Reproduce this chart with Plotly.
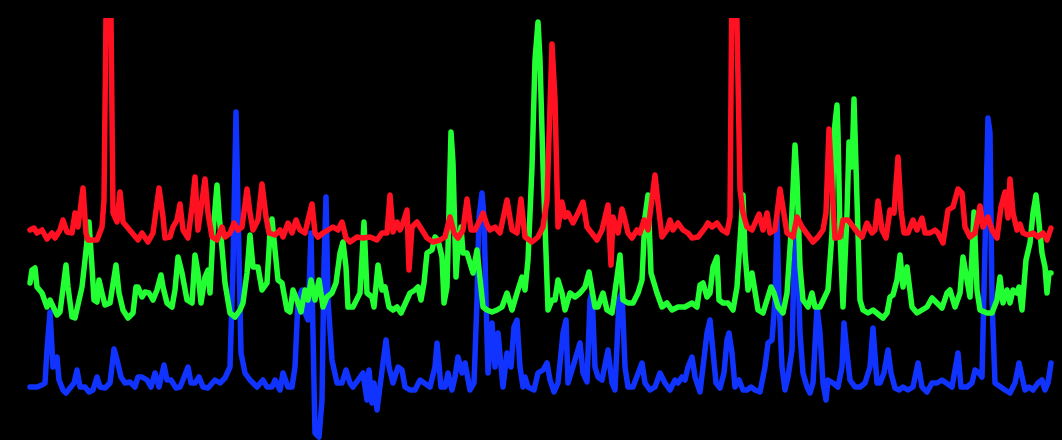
import plotly.graph_objects as go

# ---- data (time index, signal amplitude) ----
red_t = [30,34,37,42,47,52,55,60,63,67,72,75,78,81,83,86,88,97,102,104,106.5,110.5,113,117,120,123,127,133,138,142,148,153,157,159,163,165,170,173,177,180,183,188,192,195,198,202,205,208,212,217,222,225,230,234,238,242,247,250,253,258,262,266,269,275,280,283,288,292,296,300,305,308,312,315,318,323,328,333,338,342,346,350,357,363,370,377,382,387,390,393,397,400,403,407,409,412,417,422,427,433,440,445,450,454,458,463,467,471,475,479,483,487,490,495,500,507,512,517,521,525,532,538,543,547,550,552,555,558,562,565,568,573,578,583,587,592,597,602,608,611,613,618,622,625,628,632,637,640,644,648,652,655,658,662,667,670,673,678,683,688,692,698,705,708,712,717,722,727,730,732,736,738,740,743,747,752,755,759,763,767,770,775,780,784,787,793,797,802,807,813,818,823,826,829,832,835,840,843,848,853,858,862,867,872,875,878,882,886,890,894,898,901,904,908,913,917,922,925,930,935,938,943,948,953,958,962,965,970,975,980,983,988,992,997,1001,1005,1008,1010,1013,1017,1020,1023,1028,1033,1038,1043,1047,1051]
red_v = [210,212,207,210,201,207,202,210,220,208,207,227,213,240,252,207,200,200,213,240,470,470,227,218,248,218,213,207,200,207,198,207,233,252,223,202,203,213,220,236,210,202,233,263,210,235,261,227,203,200,213,203,207,217,210,213,251,227,210,220,256,223,207,205,210,203,217,207,220,210,207,220,236,207,203,207,210,213,210,218,202,198,203,202,203,200,207,207,245,208,218,210,217,230,170,213,218,210,202,198,200,203,223,207,202,210,241,210,210,218,227,215,210,213,207,240,210,207,241,203,198,203,213,240,340,396,340,213,238,223,227,217,227,238,213,207,200,210,235,175,223,207,231,220,207,202,210,207,220,210,240,265,237,203,210,220,210,217,210,207,202,203,212,217,213,217,210,207,223,470,470,340,251,227,213,210,217,226,210,227,207,210,251,227,207,203,223,213,207,198,203,210,227,311,253,202,203,220,220,213,207,203,217,207,210,239,210,202,230,227,283,230,207,207,220,210,222,207,207,210,207,197,230,233,251,247,213,203,207,234,213,223,210,202,233,248,222,261,227,210,216,207,205,207,203,207,200,212]

green_t = [30,32,35,37,42,47,50,53,57,60,63,66,68,72,75,78,82,85,87,89,92,94,97,99,102,105,110,113,116,119,123,128,133,136,138,142,145,149,153,157,161,163,167,172,175,178,182,187,192,195,198,201,205,208,210,213,217,219,222,225,230,235,240,243,247,250,253,258,262,267,270,272,275,278,282,287,290,293,297,301,305,308,311,315,319,323,327,332,336,340,343,346,348,353,355,360,364,367,372,374,378,382,385,389,393,397,401,405,410,415,418,421,424,427,432,435,438,442,444,447,449,451,453,456,458,461,463,467,470,473,477,479,483,487,492,497,502,507,512,517,522,525,528,532,535,538,540,543,546,548,552,555,558,562,565,570,575,580,585,589,592,595,598,603,607,612,617,620,623,628,633,638,642,645,648,651,657,662,667,672,678,685,692,697,700,703,707,710,713,717,719,723,728,733,737,740,743,745,748,752,755,758,763,767,771,774,778,783,787,791,793,795,797,800,803,808,812,815,820,825,828,832,834,837,838,840,843,847,849,852,854,857,860,863,868,873,877,880,883,887,890,893,897,900,903,907,910,912,917,922,927,932,937,942,947,950,955,960,963,967,970,974,977,980,987,992,997,1000,1003,1007,1010,1013,1017,1019,1022,1026,1030,1033,1036,1038,1042,1045,1047,1049,1051]
green_v = [157,170,172,153,147,133,140,133,125,128,157,175,153,123,122,137,153,180,200,218,173,140,138,160,147,135,137,157,175,147,130,122,127,153,153,143,148,147,140,150,165,153,137,133,150,183,167,140,137,185,167,137,163,170,147,207,255,227,187,157,127,123,130,137,167,205,173,173,150,157,207,221,190,160,157,130,128,150,140,128,150,140,160,140,160,133,143,147,157,187,198,173,133,133,137,147,218,147,143,133,175,150,153,133,130,133,127,137,147,150,153,140,157,187,190,203,200,183,137,153,227,308,277,163,193,213,187,187,177,167,190,167,133,130,128,130,133,147,130,147,163,150,180,273,380,418,380,273,163,130,140,140,160,147,130,147,143,147,153,168,150,133,133,147,130,127,163,185,140,137,137,147,160,223,245,167,147,133,137,130,133,133,137,133,155,157,143,147,173,183,140,137,137,130,153,207,245,187,150,167,150,130,127,140,153,147,133,127,147,207,267,295,260,173,140,133,147,133,133,143,150,207,307,335,307,207,133,227,298,273,341,240,140,130,127,130,127,125,122,127,143,145,160,185,153,173,150,133,127,130,133,142,137,132,147,150,133,147,183,163,143,228,150,130,127,127,140,163,137,150,137,150,147,153,130,180,197,227,245,227,187,173,147,167,167]

blue_t = [30,37,42,45,47,50,53,57,59,63,66,70,74,77,80,85,89,93,97,100,105,110,114,117,121,125,130,135,138,142,147,151,155,159,164,167,171,176,180,183,188,191,195,199,203,208,215,220,225,230,233,236,238,241,245,250,257,263,267,272,275,280,283,288,292,295,298,302,305,308,311,313,315,319,322,324,326,328,332,337,342,346,350,353,358,363,367,369,372,374,377,379,383,386,389,393,398,402,405,410,415,420,425,430,435,437,441,445,448,452,455,458,462,465,470,474,477,479,482,484,486,488,492,495,498,503,507,511,514,517,520,523,525,528,534,538,543,547,550,554,558,563,566,568,572,577,580,583,587,590,592,595,598,602,605,608,612,615,619,622,625,628,633,638,642,645,650,655,660,665,670,675,678,682,685,688,692,695,700,703,707,710,713,716,720,724,727,729,732,735,739,743,747,751,755,760,765,768,772,775,777,779,782,785,788,792,794,797,800,803,807,810,813,817,820,823,826,828,833,838,842,844,847,850,855,860,865,870,873,877,880,884,888,891,895,899,903,908,913,918,922,927,932,937,942,947,952,958,961,967,972,975,979,982,985,988,990,992,995,1000,1005,1010,1015,1019,1022,1025,1029,1033,1038,1042,1045,1048,1051]
blue_v = [53,53,55,57,90,128,73,83,60,50,47,53,57,70,53,53,48,50,63,53,52,57,91,80,63,57,58,53,63,63,60,53,67,53,75,60,60,52,53,60,73,57,57,63,53,52,60,57,62,73,173,328,207,87,67,60,53,60,53,53,60,50,67,53,53,73,140,150,127,120,207,107,7,3,40,173,243,140,80,57,57,70,57,53,60,67,40,70,37,57,30,50,77,100,73,57,73,70,53,50,50,60,57,53,73,97,53,53,67,50,63,83,67,77,50,57,140,223,247,223,140,67,117,73,107,53,87,73,113,120,73,53,63,53,50,67,70,77,60,48,57,107,120,57,70,87,97,67,58,140,147,73,63,60,73,90,57,50,140,147,73,53,53,67,77,57,50,53,67,57,50,60,57,63,60,73,83,63,48,73,107,120,90,57,52,67,100,107,87,53,60,50,50,53,50,48,73,97,100,140,223,140,73,50,63,90,173,207,107,67,53,47,57,133,107,57,40,60,57,53,73,117,87,60,53,53,57,73,112,57,57,67,90,67,52,50,53,50,53,77,53,48,57,57,60,57,53,87,53,53,57,70,67,63,173,322,307,140,57,53,50,47,57,77,63,50,53,50,57,60,50,57,77]

series = [
    ("blue", blue_t, blue_v, "#1133ff"),
    ("green", green_t, green_v, "#22ff33"),
    ("red", red_t, red_v, "#ff1122"),
]

fig = go.Figure()
for name, t, v, col in series:
    assert len(t) == len(v), (name, len(t), len(v))
    fig.add_trace(go.Scatter(x=t, y=v, mode="lines", name=name,
                             line=dict(color=col, width=5.5), hoverinfo="skip"))

fig.update_layout(
    width=1062, height=440,
    margin=dict(l=0, r=0, t=18, b=0, pad=0),
    paper_bgcolor="black", plot_bgcolor="black",
    showlegend=False,
    xaxis=dict(visible=False, range=[0, 1062]),
    yaxis=dict(visible=False, range=[0, 422]),
)

post = (
    "document.body.style.margin='0';"
    "document.body.style.background='black';"
    "document.querySelectorAll('path.js-line').forEach(function(p){"
    "p.style.strokeLinejoin='round';p.style.strokeLinecap='round';});"
)

fig.write_html("out.html", config={"displayModeBar": False}, post_script=post)
